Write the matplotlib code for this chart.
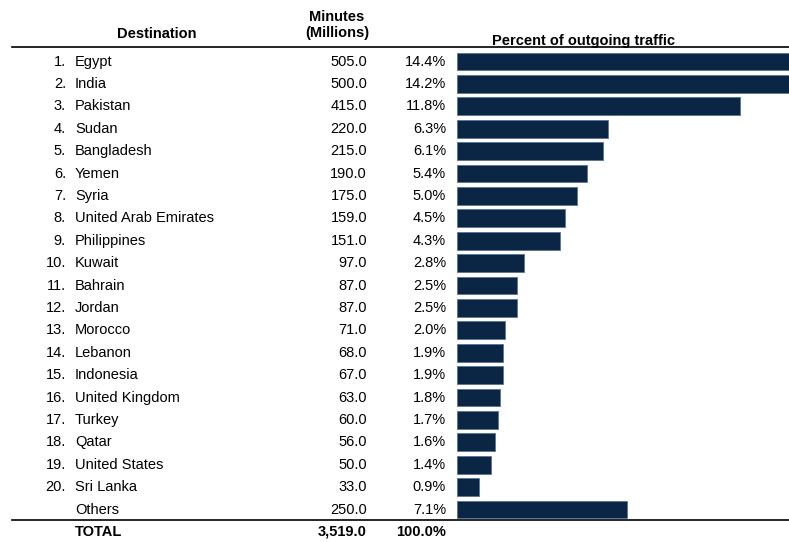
import matplotlib
matplotlib.use("Agg")
import matplotlib.pyplot as plt
import matplotlib.transforms as mtransforms

plt.rcParams["font.family"] = ["Liberation Sans", "DejaVu Sans"]

ranks = ["1.", "2.", "3.", "4.", "5.", "6.", "7.", "8.", "9.", "10.",
         "11.", "12.", "13.", "14.", "15.", "16.", "17.", "18.", "19.", "20.", ""]
destinations = ["Egypt", "India", "Pakistan", "Sudan", "Bangladesh", "Yemen", "Syria",
                "United Arab Emirates", "Philippines", "Kuwait", "Bahrain", "Jordan",
                "Morocco", "Lebanon", "Indonesia", "United Kingdom", "Turkey", "Qatar",
                "United States", "Sri Lanka", "Others"]
minutes = [505.0, 500.0, 415.0, 220.0, 215.0, 190.0, 175.0, 159.0, 151.0, 97.0,
           87.0, 87.0, 71.0, 68.0, 67.0, 63.0, 60.0, 56.0, 50.0, 33.0, 250.0]
percents = [14.4, 14.2, 11.8, 6.3, 6.1, 5.4, 5.0, 4.5, 4.3, 2.8,
            2.5, 2.5, 2.0, 1.9, 1.9, 1.8, 1.7, 1.6, 1.4, 0.9, 7.1]
total_minutes = "3,519.0"
total_percent = "100.0%"

W, H = 789, 542
fig = plt.figure(figsize=(W / 100, H / 100), dpi=100)
fig.patch.set_facecolor("white")

# row geometry in pixels
row0 = 61.5
step = 22.4
bar_left = 457.0
px_per_pct = 24.0

ax = fig.add_axes([bar_left / W, 0, (W - bar_left) / W, 1])
ax.set_xlim(0, (W - bar_left) / px_per_pct)
ax.set_ylim((H - row0) / step, (0 - row0) / step)
ax.axis("off")

rows = list(range(len(destinations)))
ax.barh(rows, percents, height=0.8, color="#0b2644", edgecolor="#5a7590",
        linewidth=0.6, clip_on=True)

trans = mtransforms.blended_transform_factory(fig.transFigure, ax.transData)
fs = 10.5

def fx(px):
    return px / W

for i in rows:
    ax.text(fx(66), i, ranks[i], transform=trans, ha="right", va="center", fontsize=fs)
    ax.text(fx(75), i, destinations[i], transform=trans, ha="left", va="center", fontsize=fs)
    ax.text(fx(367), i, "%.1f" % minutes[i], transform=trans, ha="right", va="center", fontsize=fs)
    ax.text(fx(446), i, "%.1f%%" % percents[i], transform=trans, ha="right", va="center", fontsize=fs)

# total row
tr = len(destinations)
ax.text(fx(75), tr, "TOTAL", transform=trans, ha="left", va="center", fontsize=fs, fontweight="bold")
ax.text(fx(367), tr, total_minutes, transform=trans, ha="right", va="center", fontsize=fs, fontweight="bold")
ax.text(fx(446), tr, total_percent, transform=trans, ha="right", va="center", fontsize=fs, fontweight="bold")

# headers
fig.text(fx(157), 1 - 34 / H, "Destination", ha="center", va="center", fontsize=fs, fontweight="bold")
fig.text(fx(337), 1 - 25 / H, "Minutes\n(Millions)", ha="center", va="center", fontsize=fs,
         fontweight="bold", linespacing=1.25)
fig.text(fx(583), 1 - 41 / H, "Percent of outgoing traffic", ha="center", va="center",
         fontsize=fs, fontweight="bold")

# rules
top_y = (47 - row0) / step
bot_y = (520 - row0) / step
ax.plot([fx(12), 1], [top_y, top_y], transform=trans, color="black", lw=1.2, clip_on=False)
ax.plot([fx(12), 1], [bot_y, bot_y], transform=trans, color="black", lw=1.2, clip_on=False)

fig.savefig("out.png", dpi=100)
